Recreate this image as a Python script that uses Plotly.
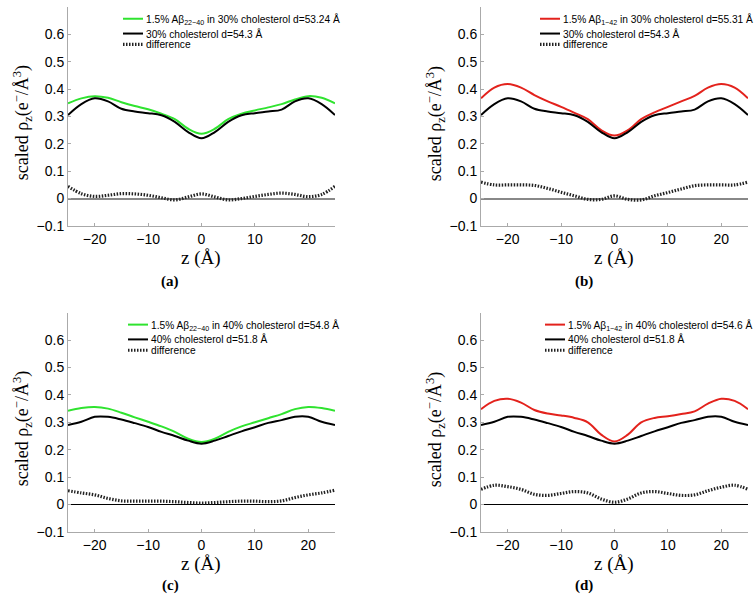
import plotly.graph_objects as go

z = [-25, -22.5, -20, -17.5, -15, -12.5, -10, -7.5, -5, -2.5, 0,
     2.5, 5, 7.5, 10, 12.5, 15, 17.5, 20, 22.5, 25]

# (a) 1.5% Abeta22-40 in 30% cholesterol
ab2240_30 = [0.348, 0.366, 0.374, 0.368, 0.352, 0.338, 0.326, 0.310, 0.290, 0.255, 0.237,
             0.255, 0.290, 0.310, 0.322, 0.333, 0.345, 0.362, 0.374, 0.368, 0.348]
chol30 = [0.305, 0.345, 0.366, 0.355, 0.328, 0.318, 0.312, 0.304, 0.280, 0.243, 0.220,
          0.243, 0.280, 0.304, 0.312, 0.318, 0.325, 0.355, 0.366, 0.345, 0.305]
diff_a = [0.045, 0.018, 0.008, 0.012, 0.018, 0.017, 0.012, 0.003, -0.005, 0.006, 0.017,
          0.006, -0.005, 0.000, 0.008, 0.015, 0.020, 0.015, 0.007, 0.015, 0.045]

# (b) 1.5% Abeta1-42 in 30% cholesterol
ab142_30 = [0.366, 0.405, 0.418, 0.405, 0.378, 0.355, 0.335, 0.313, 0.290, 0.250, 0.230,
            0.250, 0.290, 0.315, 0.335, 0.355, 0.375, 0.405, 0.418, 0.405, 0.366]
diff_b = [0.060, 0.050, 0.050, 0.050, 0.048, 0.037, 0.023, 0.010, -0.003, -0.003, 0.010,
          -0.003, -0.005, 0.010, 0.022, 0.035, 0.047, 0.050, 0.050, 0.050, 0.060]

# (c) 1.5% Abeta22-40 in 40% cholesterol
ab2240_40 = [0.342, 0.352, 0.356, 0.350, 0.335, 0.318, 0.302, 0.285, 0.265, 0.240, 0.228,
             0.240, 0.265, 0.285, 0.300, 0.315, 0.330, 0.348, 0.356, 0.352, 0.342]
chol40 = [0.290, 0.302, 0.320, 0.320, 0.310, 0.297, 0.283, 0.265, 0.250, 0.233, 0.222,
          0.233, 0.250, 0.267, 0.282, 0.298, 0.308, 0.320, 0.320, 0.302, 0.290]
diff_c = [0.050, 0.042, 0.035, 0.022, 0.013, 0.012, 0.012, 0.012, 0.010, 0.007, 0.005,
          0.007, 0.010, 0.012, 0.012, 0.010, 0.013, 0.025, 0.035, 0.042, 0.052]

# (d) 1.5% Abeta1-42 in 40% cholesterol
ab142_40 = [0.348, 0.378, 0.386, 0.372, 0.345, 0.332, 0.325, 0.316, 0.300, 0.255, 0.230,
            0.255, 0.300, 0.316, 0.322, 0.330, 0.340, 0.368, 0.386, 0.378, 0.348]
diff_d = [0.055, 0.070, 0.065, 0.055, 0.037, 0.033, 0.040, 0.047, 0.042, 0.020, 0.008,
          0.020, 0.042, 0.047, 0.040, 0.033, 0.035, 0.050, 0.063, 0.070, 0.055]

y_ticks = [-0.1, 0, 0.1, 0.2, 0.3, 0.4, 0.5, 0.6]
y_ticktext = ["−0.1", "0", "0.1", "0.2", "0.3", "0.4", "0.5", "0.6"]
x_ticks = [-20, -10, 0, 10, 20]
x_ticktext = ["−20", "−10", "0", "10", "20"]

panels = [
    dict(lbl="(a)", col="#2fe32f", main=ab2240_30, ref=chol30, diff=diff_a,
         name1="1.5% Aβ<sub>22−40</sub> in 30% cholesterol d=53.24 Å",
         name2="30% cholesterol d=54.3 Å"),
    dict(lbl="(b)", col="#e3221c", main=ab142_30, ref=chol30, diff=diff_b,
         name1="1.5% Aβ<sub>1−42</sub> in 30% cholesterol d=55.31 Å",
         name2="30% cholesterol d=54.3 Å"),
    dict(lbl="(c)", col="#2fe32f", main=ab2240_40, ref=chol40, diff=diff_c,
         name1="1.5% Aβ<sub>22−40</sub> in 40% cholesterol d=54.8 Å",
         name2="40% cholesterol d=51.8 Å"),
    dict(lbl="(d)", col="#e3221c", main=ab142_40, ref=chol40, diff=diff_d,
         name1="1.5% Aβ<sub>1−42</sub> in 40% cholesterol d=54.6 Å",
         name2="40% cholesterol d=51.8 Å"),
]

W, H = 754, 600
xdoms = [(68 / W, 335 / W), (481 / W, 748 / W)]
ydoms = [(1 - 229 / H, 1 - 7 / H), (1 - 539 / H, 1 - 317 / H)]
# legend sample start x, row y's (pixels)
legend_x = [123, 540, 128, 545]
legend_rows = [(19, 34, 45), (19, 34, 45), (329, 344, 355), (329, 344, 355)]
label_pos = [(170, 285), (584, 285), (170, 593), (584, 593)]
ytitle_pos = [(22, 125), (435, 125), (22, 435), (435, 435)]
xtitle_pos = [(201, 261), (614, 261), (201, 571.5), (614, 571.5)]

DIFF_DASH = "1.5px,1.5px"
serif = "Liberation Serif, Times New Roman, serif"
sans = "Liberation Sans, Arial, sans-serif"

fig = go.Figure()
layout = dict(width=W, height=H, margin=dict(l=0, r=0, t=0, b=0),
              plot_bgcolor="white", paper_bgcolor="white", showlegend=False,
              annotations=[], shapes=[])


def px(x):
    return x / W


def py(y):
    return 1 - y / H


for i, p in enumerate(panels):
    r, c = divmod(i, 2)
    sfx = "" if i == 0 else str(i + 1)
    xa, ya = "x" + sfx, "y" + sfx
    fig.add_trace(go.Scatter(x=z, y=p["main"], mode="lines", name=p["name1"],
                             line=dict(color=p["col"], width=2, shape="spline", smoothing=1.0),
                             xaxis=xa, yaxis=ya))
    fig.add_trace(go.Scatter(x=z, y=p["ref"], mode="lines", name=p["name2"],
                             line=dict(color="black", width=2, shape="spline", smoothing=1.0),
                             xaxis=xa, yaxis=ya))
    fig.add_trace(go.Scatter(x=z, y=p["diff"], mode="lines", name="difference",
                             line=dict(color="#222222", width=3.2, dash=DIFF_DASH,
                                       shape="spline", smoothing=1.0),
                             xaxis=xa, yaxis=ya))
    zc = "#888888" if r == 0 else "black"
    zw = 2 if r == 0 else 1
    layout["xaxis" + sfx] = dict(domain=xdoms[c], range=[-25, 25], anchor=ya,
                                 tickvals=x_ticks, ticktext=x_ticktext,
                                 showline=True, linecolor="#aaaaaa", linewidth=1,
                                 ticks="inside", ticklen=3, tickcolor="#aaaaaa",
                                 showgrid=False, zeroline=False,
                                 tickfont=dict(family=sans, size=14, color="black"))
    layout["yaxis" + sfx] = dict(domain=ydoms[r], range=[-0.1, 0.7], anchor=xa,
                                 tickvals=y_ticks, ticktext=y_ticktext,
                                 showline=True, linecolor="#aaaaaa", linewidth=1,
                                 ticks="inside", ticklen=3, tickcolor="#aaaaaa",
                                 showgrid=False, zeroline=True, zerolinecolor=zc, zerolinewidth=zw,
                                 tickfont=dict(family=sans, size=14, color="black"))

    # legend (line samples + labels)
    lx = legend_x[i]
    styles = [dict(color=p["col"], width=2), dict(color="black", width=2),
              dict(color="#222222", width=3.2, dash=DIFF_DASH)]
    names = [p["name1"], p["name2"], "difference"]
    for k in range(3):
        ry = legend_rows[i][k]
        layout["shapes"].append(dict(type="line", xref="paper", yref="paper",
                                     x0=px(lx), x1=px(lx + 20), y0=py(ry), y1=py(ry),
                                     line=styles[k]))
        layout["annotations"].append(dict(text=names[k], x=px(lx + 21), y=py(ry + (1.5 if k == 0 else 0)),
                                          xref="paper", yref="paper", showarrow=False,
                                          xanchor="left", yanchor="middle",
                                          font=dict(family=sans, size=10.2, color="black")))

    # axis titles
    tx, ty = ytitle_pos[i]
    layout["annotations"].append(dict(text="scaled ρ<sub>z</sub>(e<sup>−</sup>/Å<sup>3</sup>)",
                                      x=px(tx), y=py(ty), xref="paper", yref="paper",
                                      showarrow=False, textangle=-90,
                                      xanchor="center", yanchor="middle",
                                      font=dict(family=serif, size=18, color="black")))
    tx, ty = xtitle_pos[i]
    layout["annotations"].append(dict(text="z (Å)", x=px(tx), y=py(ty), xref="paper", yref="paper",
                                      showarrow=False, xanchor="center", yanchor="middle",
                                      font=dict(family=serif, size=19, color="black")))
    ax, ay = label_pos[i]
    layout["annotations"].append(dict(text="<b>" + p["lbl"] + "</b>", x=px(ax), y=py(ay),
                                      xref="paper", yref="paper", showarrow=False,
                                      xanchor="center", yanchor="middle",
                                      font=dict(family=serif, size=15, color="black")))

fig.update_layout(**layout)
fig.write_html("out.html", config={"displayModeBar": False},
               post_script="document.body.style.margin='0';document.body.style.overflow='hidden';")
